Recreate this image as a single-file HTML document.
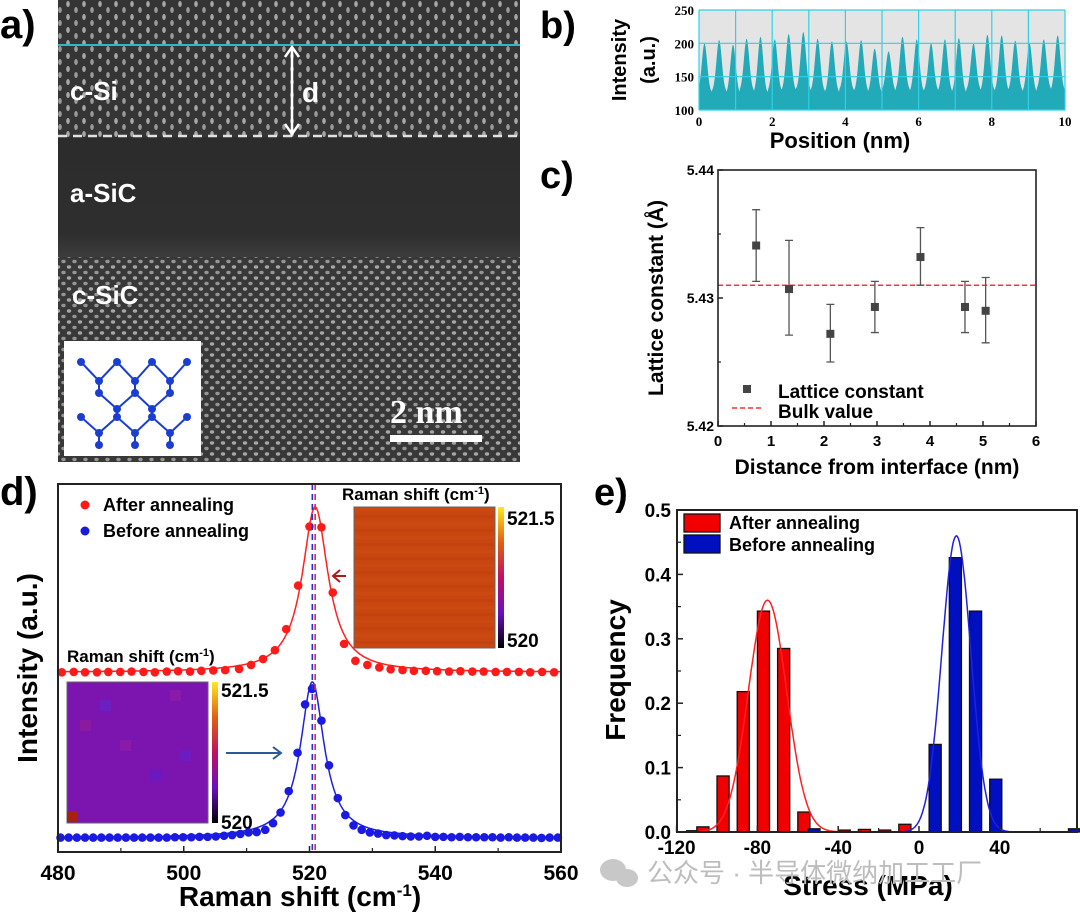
<!DOCTYPE html>
<html><head><meta charset="utf-8">
<style>
html,body{margin:0;padding:0;background:#fff;}
svg{display:block;font-family:"Liberation Sans",Arial,sans-serif;}
.b{font-weight:bold;}
</style></head>
<body>
<svg id="fig" width="1080" height="916" viewBox="0 0 1080 916" xmlns="http://www.w3.org/2000/svg">
<defs>
<pattern id="siPat" width="16" height="13" patternUnits="userSpaceOnUse">
<rect width="16" height="13" fill="#353535"/>
<ellipse cx="4" cy="4" rx="1.8" ry="3" fill="#a8a8a8"/>
<ellipse cx="12" cy="10" rx="1.8" ry="3" fill="#9a9a9a"/>
</pattern>
<pattern id="sicPat" width="11" height="11" patternUnits="userSpaceOnUse">
<rect width="11" height="11" fill="#383838"/>
<ellipse cx="3" cy="3" rx="2.2" ry="1.7" fill="#a6a6a6"/>
<ellipse cx="8.5" cy="8.5" rx="2.2" ry="1.7" fill="#959595"/>
</pattern>
<linearGradient id="amorph" x1="0" y1="0" x2="0" y2="1">
<stop offset="0" stop-color="#2c2c2c"/><stop offset="0.8" stop-color="#2e2e2e"/><stop offset="1" stop-color="#3c3c3c"/>
</linearGradient>
<linearGradient id="cbar" x1="0" y1="1" x2="0" y2="0">
<stop offset="0" stop-color="#000"/><stop offset="0.25" stop-color="#6a10c0"/><stop offset="0.5" stop-color="#c01060"/><stop offset="0.75" stop-color="#e06010"/><stop offset="1" stop-color="#ffe820"/>
</linearGradient>
</defs>

<g>
<text x="0" y="38" font-size="40" class="b">a)</text>
<rect x="58" y="0" width="462" height="137" fill="url(#siPat)"/>
<rect x="58" y="137" width="462" height="120" fill="url(#amorph)"/>
<rect x="58" y="257" width="462" height="205" fill="url(#sicPat)"/>
<line x1="58" y1="45" x2="520" y2="45" stroke="#2fb5c8" stroke-width="2"/>
<line x1="58" y1="136" x2="520" y2="136" stroke="#e0e0e0" stroke-width="2.5" stroke-dasharray="9,6"/>
<g stroke="#fff" stroke-width="2.5" fill="none">
<line x1="292" y1="48" x2="292" y2="133"/>
<polyline points="285,57 292,47 299,57"/><polyline points="285,124 292,134 299,124"/>
</g>
<text x="302" y="102" font-size="28" class="b" fill="#fff">d</text>
<text x="70" y="100" font-size="26" class="b" fill="#fff">c-Si</text>
<text x="70" y="202" font-size="26" class="b" fill="#fff">a-SiC</text>
<text x="72" y="304" font-size="26" class="b" fill="#fff">c-SiC</text>
<g>
<rect x="64" y="341" width="137" height="115" fill="#fff"/>
<g stroke="#1a3fd0" stroke-width="2" fill="none">
<polyline points="81,362 99,381 117,362 135,381 152,362 170,381 187,362"/>
<polyline points="99,381 99,393 117,409 135,393 135,381"/>
<polyline points="135,393 152,409 170,393 170,381"/>
<polyline points="117,409 117,417 99,433 99,445"/><polyline points="81,417 99,433"/>
<polyline points="117,417 135,433 152,417 152,409"/><polyline points="135,433 135,445"/>
<polyline points="152,417 170,433 187,417"/><polyline points="170,433 170,445"/>
</g>
<g fill="#1a3fd0">
<circle cx="81" cy="362" r="4"/><circle cx="117" cy="362" r="4"/><circle cx="152" cy="362" r="4"/><circle cx="187" cy="362" r="4"/>
<circle cx="99" cy="381" r="4"/><circle cx="135" cy="381" r="4"/><circle cx="170" cy="381" r="4"/>
<circle cx="99" cy="393" r="4"/><circle cx="135" cy="393" r="4"/><circle cx="170" cy="393" r="4"/>
<circle cx="117" cy="409" r="4"/><circle cx="152" cy="409" r="4"/>
<circle cx="81" cy="417" r="4"/><circle cx="117" cy="417" r="4"/><circle cx="152" cy="417" r="4"/><circle cx="187" cy="417" r="4"/>
<circle cx="99" cy="433" r="4"/><circle cx="135" cy="433" r="4"/><circle cx="170" cy="433" r="4"/>
<circle cx="99" cy="445" r="4"/><circle cx="135" cy="445" r="4"/><circle cx="170" cy="445" r="4"/>
</g>
</g>
<text x="390" y="423" font-size="34" class="b" fill="#fff" font-family="Liberation Serif, serif">2 nm</text>
<rect x="390" y="435" width="92" height="7" fill="#fff"/>
</g>

<text x="540" y="38" font-size="38" class="b">b)</text>
<text x="540" y="188" font-size="38" class="b">c)</text>
<text x="0" y="505" font-size="40" class="b">d)</text>
<text x="594" y="505" font-size="38" class="b">e)</text>

<g id="pb"></g>
<g id="pc"></g>
<g id="pd"></g>
<g id="pe"></g>

<g fill="#c8c8c8">
<ellipse cx="613" cy="870" rx="13" ry="11"/>
<ellipse cx="627" cy="878" rx="11" ry="9"/>
<text x="647" y="882" font-size="26" font-family="Liberation Sans, Noto Sans CJK SC, sans-serif" fill="#bdbdbd">公众号 · 半导体微纳加工工厂</text>
</g>
</svg>

<script>
const NS="http://www.w3.org/2000/svg";
function mk(parent,tag,attrs,txt){const e=document.createElementNS(NS,tag);for(const k in attrs)e.setAttribute(k,attrs[k]);if(txt!==undefined)e.textContent=txt;parent.appendChild(e);return e;}

const bPeakPos=[0.15,0.55,0.93,1.3,1.68,2.07,2.45,2.85,3.24,3.63,4.03,4.43,4.8,5.18,5.56,5.95,6.34,6.72,7.1,7.5,7.88,8.27,8.64,9.03,9.42,9.8];
const bPeakHeight=[190,195,188,197,200,196,204,207,197,193,193,195,182,178,200,196,190,196,198,190,203,202,194,190,196,202];
const bBase=[122,124,120,125,121,124,125,127,124,122,126,124,122,124,126,123,125,124,122,126,124,124,125,123,127,125];
const bXTicks=[0,2,4,6,8,10];
const bYTicks=[100,150,200,250];

const cDist=[0.72,1.34,2.12,2.96,3.82,4.66,5.05];
const cLattice=[5.4341,5.4307,5.4272,5.4293,5.4332,5.4293,5.4290];
const cErrTop=[5.4369,5.4345,5.4295,5.4313,5.4355,5.4313,5.4316];
const cErrBot=[5.4313,5.4271,5.4250,5.4273,5.4310,5.4273,5.4265];
const cBulk=[5.4310];
const cXTicks=[0,1,2,3,4,5,6];
const cYTicks=["5.42","5.43","5.44"];

const dRedX=[480.6,482.5,484.3,486.2,488.0,489.9,491.7,493.6,495.4,497.3,499.1,501.0,502.8,504.7,506.6,508.8,510.7,512.6,514.5,516.3,518.2,520.0,521.9,523.7,525.5,527.3,529.2,531.1,532.9,534.8,536.6,538.5,540.3,542.2,544.0,545.9,547.7,549.6,551.4,553.3,555.1,557.0,558.9];
const dRedY=[48.7,48.8,48.7,48.7,48.8,48.8,48.9,48.8,48.7,48.9,49.0,48.9,49.1,49.2,49.3,49.6,50.7,52.3,54.7,60.4,72.2,88.2,88.0,70.3,56.4,51.8,50.7,50.0,49.5,49.3,49.1,49.1,49.0,48.9,49.0,48.9,48.9,48.8,48.8,48.8,48.7,48.8,48.7];
const dBlueX=[480.4,481.7,483.0,484.3,485.6,486.9,488.2,489.5,490.8,492.1,493.4,494.7,496.0,497.3,498.6,499.9,501.2,502.5,503.8,505.1,506.4,507.7,509.0,510.3,511.6,512.96,514.2,515.4,516.7,518.1,519.3,520.4,521.9,523.1,524.5,525.7,527.0,528.3,529.6,530.9,532.2,533.5,534.8,536.1,537.4,538.7,540.0,541.3,542.6,543.9,545.2,546.5,547.8,549.1,550.4,551.7,553.0,554.3,555.6,556.9,558.2,559.5];
const dBlueY=[3.9,3.9,3.9,3.9,3.9,3.9,3.9,3.9,3.9,3.9,3.9,3.9,3.9,3.9,4.0,4.0,4.0,4.1,4.1,4.2,4.4,4.6,4.9,5.3,5.4,6.0,7.8,10.7,16.5,26.9,40.0,44.2,35.6,23.5,14.6,10.0,7.2,6.0,5.3,5.0,4.6,4.5,4.3,4.2,4.2,4.4,4.1,4.1,4.0,4.1,4.0,4.0,4.0,4.0,3.9,4.0,3.9,3.9,3.9,3.8,3.9,3.9];
const dRedFit=[520.9,44.8,48.7,2.5];
const dBlueFit=[520.45,42.2,3.9,2.3];
const dXTicks=[480,500,520,540,560];

const eRedX=[-112,-107,-97,-87,-77,-67,-57,-37,-27,-17,-7];
const eRedF=[0.002,0.008,0.087,0.218,0.343,0.285,0.031,0.003,0.004,0.003,0.012];
const eBlueX=[-52,8,18,28,38,77];
const eBlueF=[0.005,0.136,0.426,0.343,0.082,0.005];
const eRedFit=[-75,0.36,9.5];
const eBlueFit=[18.5,0.46,7.2];
const eXTicks=[-120,-80,-40,0,40];
const eYTicks=["0.0","0.1","0.2","0.3","0.4","0.5"];

(function(){
const g=document.getElementById('pb');
const X0=699,X1=1065,Y0=110,Y1=10;
const sx=v=>X0+(v-0)/(10-0)*(X1-X0);
const sy=v=>Y0-(v-100)/(250-100)*(Y0-Y1);
const bg=mk(g,'rect',{x:X0,y:Y1,width:X1-X0,height:Y0-Y1,fill:'#e4e4e4'});


let d='M'+sx(0)+','+sy(100);
for(let px=X0;px<=X1;px+=0.5){
  const x=(px-X0)/(X1-X0)*10;
  let idx=0,best=99;
  for(let i=0;i<bPeakPos.length;i++){const dd=Math.abs(x-bPeakPos[i]);if(dd<best){best=dd;idx=i;}}
  const w=0.1;
  const v=bBase[idx]+(bPeakHeight[idx]-bBase[idx])*Math.exp(-Math.pow(best/w,2))+10*Math.exp(-Math.pow(best/0.2,2));
  d+=' L'+px.toFixed(1)+','+sy(v).toFixed(1);
}
d+=' L'+sx(10)+','+sy(100)+' Z';
const p=mk(g,'path',{d:d,fill:'#22aab8'});


for(let i=0;i<=10;i++){const l=mk(g,'line',{x1:sx(i),x2:sx(i),y1:Y1,y2:Y0,stroke:'#2fd0e8','stroke-width':1.2});

}
bYTicks.forEach(t=>{const l=mk(g,'line',{x1:X0,x2:X1,y1:sy(t),y2:sy(t),stroke:'#2fd0e8','stroke-width':1.2});


const tx=mk(g,'text',{x:X0-5,y:sy(t)+5,'font-size':13,'font-weight':'bold','text-anchor':'end','font-family':'Liberation Serif, serif'},t);

});
bXTicks.forEach(t=>{const tx=mk(g,'text',{x:sx(t),y:Y0+16,'font-size':13,'font-weight':'bold','text-anchor':'middle','font-family':'Liberation Serif, serif'},t);

});
const xt=mk(g,'text',{x:840,y:148,'font-size':22,'font-weight':'bold','text-anchor':'middle'},'Position (nm)');


const yt=mk(g,'text',{transform:'translate(626,60) rotate(-90)','font-size':20,'font-weight':'bold','text-anchor':'middle'},'Intensity');


const yt2=mk(g,'text',{transform:'translate(655,60) rotate(-90)','font-size':20,'font-weight':'bold','text-anchor':'middle'},'(a.u.)');


})();

(function(){
const g=document.getElementById('pc');
const X0=718,X1=1036,Y0=426,Y1=170;
const sx=v=>X0+v/6*(X1-X0);
const sy=v=>Y0-(v-5.42)/(0.02)*(Y0-Y1);
const bulk=mk(g,'line',{x1:X0,x2:X1,y1:sy(cBulk[0]),y2:sy(cBulk[0]),stroke:'#ff3030','stroke-width':1.5,'stroke-dasharray':'5,3'});


cDist.forEach((x,i)=>{
 const e=mk(g,'path',{d:`M${sx(x)},${sy(cErrTop[i])}V${sy(cErrBot[i])}M${sx(x)-4},${sy(cErrTop[i])}h8M${sx(x)-4},${sy(cErrBot[i])}h8`,stroke:'#555','stroke-width':1.3,fill:'none'});
 
 
 const r=mk(g,'rect',{x:sx(x)-4,y:sy(cLattice[i])-4,width:8,height:8,fill:'#444'});
 
 
});
const box=mk(g,'rect',{x:X0,y:Y1,width:X1-X0,height:Y0-Y1,fill:'none',stroke:'#222','stroke-width':1.6});


cXTicks.forEach(t=>{
 const l=mk(g,'line',{x1:sx(t),x2:sx(t),y1:Y0,y2:Y0-5,stroke:'#222','stroke-width':1.5});
 
 
 if(t<6){const m=mk(g,'line',{x1:sx(t+0.5),x2:sx(t+0.5),y1:Y0,y2:Y0-3,stroke:'#222','stroke-width':1.2});
 
 }
 const tx=mk(g,'text',{x:sx(t),y:Y0+20,'font-size':15,'font-weight':'bold','text-anchor':'middle'},t);
 
 
});
cYTicks.forEach(t=>{
 const v=parseFloat(t);
 const l=mk(g,'line',{x1:X0,x2:X0+5,y1:sy(v),y2:sy(v),stroke:'#222','stroke-width':1.5});
 
 
 const tx=mk(g,'text',{x:X0-4,y:sy(v)+5,'font-size':14,'font-weight':'bold','text-anchor':'end'},t);
 
 
});
[5.425,5.435].forEach(v=>{const m=mk(g,'line',{x1:X0,x2:X0+3,y1:sy(v),y2:sy(v),stroke:'#222','stroke-width':1.2});

});
const lr=mk(g,'rect',{x:743,y:385,width:8,height:8,fill:'#444'});


const lt=mk(g,'text',{x:778,y:398,'font-size':19,'font-weight':'bold'},'Lattice constant');


const ll=mk(g,'line',{x1:732,x2:762,y1:408,y2:408,stroke:'#ff3030','stroke-width':1.5,'stroke-dasharray':'5,3'});


const lb=mk(g,'text',{x:778,y:418,'font-size':19,'font-weight':'bold'},'Bulk value');


const xt=mk(g,'text',{x:877,y:474,'font-size':21,'font-weight':'bold','text-anchor':'middle'},'Distance from interface (nm)');


const yt=mk(g,'text',{transform:'translate(663,298) rotate(-90)','font-size':21,'font-weight':'bold','text-anchor':'middle'},'Lattice constant (Å)');


})();

(function(){
const g=document.getElementById('pd');
const X0=58,X1=561,Y0=852,Y1=484;
const sx=v=>X0+(v-480)/80*(X1-X0);
const sy=v=>Y0-v*3.69;
const rm=mk(g,'rect',{x:354,y:507,width:141,height:141,fill:'#c8460f',stroke:'#666','stroke-width':1});


for(let i=0;i<20;i++){const s=mk(g,'rect',{x:355,y:508+i*7,width:139,height:3,fill:i%2?'#bf3f0c':'#cf4c14',opacity:0.6});

}
const rc=mk(g,'rect',{x:498,y:507,width:6,height:141,fill:'url(#cbar)'});


[['521.5',507,525],['520',507,647]].forEach(a=>{const t=mk(g,'text',{x:a[1],y:a[2],'font-size':19,'font-weight':'bold'},a[0]);

});
const rt=mk(g,'text',{x:342,y:500,'font-size':17,'font-weight':'bold'});


rt.innerHTML='Raman shift (cm<tspan dy="-6" font-size="11">-1</tspan><tspan dy="6">)</tspan>';
const bm=mk(g,'rect',{x:67,y:682,width:141,height:141,fill:'#7c14b0',stroke:'#666','stroke-width':1});


const blocks=[[100,700,'#6a20c0'],[170,690,'#8a1aa8'],[120,740,'#8a1aa8'],[150,770,'#6a18c0'],[80,720,'#8a1aa0'],[180,750,'#6c1cc0'],[67,811,'#a82010']];
blocks.forEach(b=>{const r=mk(g,'rect',{x:b[0],y:b[1],width:11,height:11,fill:b[2]});

});
const bc=mk(g,'rect',{x:212,y:682,width:6,height:141,fill:'url(#cbar)'});


[['521.5',221,697],['520',221,829]].forEach(a=>{const t=mk(g,'text',{x:a[1],y:a[2],'font-size':19,'font-weight':'bold'},a[0]);

});
const bt=mk(g,'text',{x:67,y:662,'font-size':17,'font-weight':'bold'});


bt.innerHTML='Raman shift (cm<tspan dy="-6" font-size="11">-1</tspan><tspan dy="6">)</tspan>';
const ra=mk(g,'path',{d:'M346,576 H333 M340,570 L333,576 L340,582',stroke:'#b01818','stroke-width':2,fill:'none'});


const ba=mk(g,'path',{d:'M226,753 H281 M273,747 L281,753 L273,759',stroke:'#2a5a9a','stroke-width':2,fill:'none'});


function lor(p,x){return p[2]+p[1]/(1+Math.pow((x-p[0])/p[3],2));}
[[dRedFit,'#ff2020','after-fit-line'],[dBlueFit,'#2020e0','before-fit-line']].forEach(f=>{
 let d='';for(let x=480.5;x<=560;x+=0.1){d+=(d?' L':'M')+sx(x).toFixed(1)+','+sy(lor(f[0],x)).toFixed(1);}
 const p=mk(g,'path',{d:d,stroke:f[1],'stroke-width':1.5,fill:'none'});
 
 
});
dRedX.forEach((x,i)=>{const c=mk(g,'circle',{cx:sx(x),cy:sy(dRedY[i]),r:4.3,fill:'#ff1a1a'});

});
dBlueX.forEach((x,i)=>{const c=mk(g,'circle',{cx:sx(x),cy:sy(dBlueY[i]),r:4.3,fill:'#1a1ae0'});

});
const vb=mk(g,'line',{x1:sx(dBlueFit[0]),x2:sx(dBlueFit[0]),y1:Y1,y2:Y0,stroke:'#2030e0','stroke-width':1.6,'stroke-dasharray':'6,4'});


const vr=mk(g,'line',{x1:sx(dRedFit[0]),x2:sx(dRedFit[0]),y1:Y1,y2:Y0,stroke:'#ff2020','stroke-width':1.6,'stroke-dasharray':'6,4'});


const box=mk(g,'rect',{x:X0,y:Y1,width:X1-X0,height:Y0-Y1,fill:'none',stroke:'#222','stroke-width':2});


dXTicks.forEach((t,i)=>{
 const l=mk(g,'line',{x1:sx(t),x2:sx(t),y1:Y0,y2:Y0-6,stroke:'#222','stroke-width':1.5});
 
 
 if(i<dXTicks.length-1){const m=mk(g,'line',{x1:sx(t+10),x2:sx(t+10),y1:Y0,y2:Y0-4,stroke:'#222','stroke-width':1.2});
 
 }
 const tx=mk(g,'text',{x:sx(t),y:Y0+28,'font-size':21,'font-weight':'bold','text-anchor':'middle'},t);
 
 
});
const c1=mk(g,'circle',{cx:85,cy:505,r:4.5,fill:'#ff1a1a'});


const t1=mk(g,'text',{x:103,y:511,'font-size':18,'font-weight':'bold'},'After annealing');


const c2=mk(g,'circle',{cx:85,cy:531,r:4.5,fill:'#1a1ae0'});


const t2=mk(g,'text',{x:103,y:537,'font-size':18,'font-weight':'bold'},'Before annealing');


const xt=mk(g,'text',{x:300,y:906,'font-size':28,'font-weight':'bold','text-anchor':'middle'});


xt.innerHTML='Raman shift (cm<tspan dy="-10" font-size="17">-1</tspan><tspan dy="10">)</tspan>';
const yt=mk(g,'text',{transform:'translate(37,668) rotate(-90)','font-size':28,'font-weight':'bold','text-anchor':'middle'},'Intensity (a.u.)');


})();

(function(){
const g=document.getElementById('pe');
const X0=677,X1=1077,Y0=832,Y1=510;
const sx=v=>919+v*2.02;
const sy=v=>Y0-v/0.5*(Y0-Y1);
const bw=6*2.02;
eRedX.forEach((x,i)=>{const r=mk(g,'rect',{x:sx(x)-bw/2,y:sy(eRedF[i]),width:bw,height:Y0-sy(eRedF[i]),fill:'#f00000',stroke:'#111','stroke-width':1.3});

});
eBlueX.forEach((x,i)=>{const r=mk(g,'rect',{x:sx(x)-bw/2,y:sy(eBlueF[i]),width:bw,height:Y0-sy(eBlueF[i]),fill:'#0010c0',stroke:'#111','stroke-width':1.3});

});
[[eRedFit,'#ff2020','after-gauss-fit',-116,-5],[eBlueFit,'#2020e0','before-gauss-fit',-8,48]].forEach(f=>{
 let d='';for(let x=f[3];x<=f[4];x+=0.5){const v=f[0][1]*Math.exp(-0.5*Math.pow((x-f[0][0])/f[0][2],2));d+=(d?' L':'M')+sx(x).toFixed(1)+','+sy(v).toFixed(1);}
 const p=mk(g,'path',{d:d,stroke:f[1],'stroke-width':1.5,fill:'none'});
 
 
});
const box=mk(g,'rect',{x:X0,y:Y1,width:X1-X0,height:Y0-Y1,fill:'none',stroke:'#222','stroke-width':2});


eXTicks.forEach(t=>{
 const l=mk(g,'line',{x1:sx(t),x2:sx(t),y1:Y0,y2:Y0-6,stroke:'#222','stroke-width':1.5});
 
 
 const m=mk(g,'line',{x1:sx(t+20),x2:sx(t+20),y1:Y0,y2:Y0-4,stroke:'#222','stroke-width':1.2});
 
 
 const tx=mk(g,'text',{x:sx(t),y:Y0+22,'font-size':19,'font-weight':'bold','text-anchor':'middle'},t);
 
 
});
eYTicks.forEach(t=>{
 const v=parseFloat(t);
 const l=mk(g,'line',{x1:X0,x2:X0+6,y1:sy(v),y2:sy(v),stroke:'#222','stroke-width':1.5});
 
 
 if(v<0.5){const m=mk(g,'line',{x1:X0,x2:X0+4,y1:sy(v+0.05),y2:sy(v+0.05),stroke:'#222','stroke-width':1.2});
 
 }
 const tx=mk(g,'text',{x:X0-6,y:sy(v)+7,'font-size':19,'font-weight':'bold','text-anchor':'end'},t);
 
 
});
const r1=mk(g,'rect',{x:684,y:514,width:36,height:18,fill:'#f00000',stroke:'#111','stroke-width':1.3});


const t1=mk(g,'text',{x:729,y:529,'font-size':18,'font-weight':'bold'},'After annealing');


const r2=mk(g,'rect',{x:684,y:535,width:36,height:18,fill:'#0010c0',stroke:'#111','stroke-width':1.3});


const t2=mk(g,'text',{x:729,y:551,'font-size':18,'font-weight':'bold'},'Before annealing');


const xt=mk(g,'text',{x:868,y:895,'font-size':28,'font-weight':'bold','text-anchor':'middle'},'Stress (MPa)');


const yt=mk(g,'text',{transform:'translate(625,670) rotate(-90)','font-size':28,'font-weight':'bold','text-anchor':'middle'},'Frequency');


})();
</script>
</body></html>
